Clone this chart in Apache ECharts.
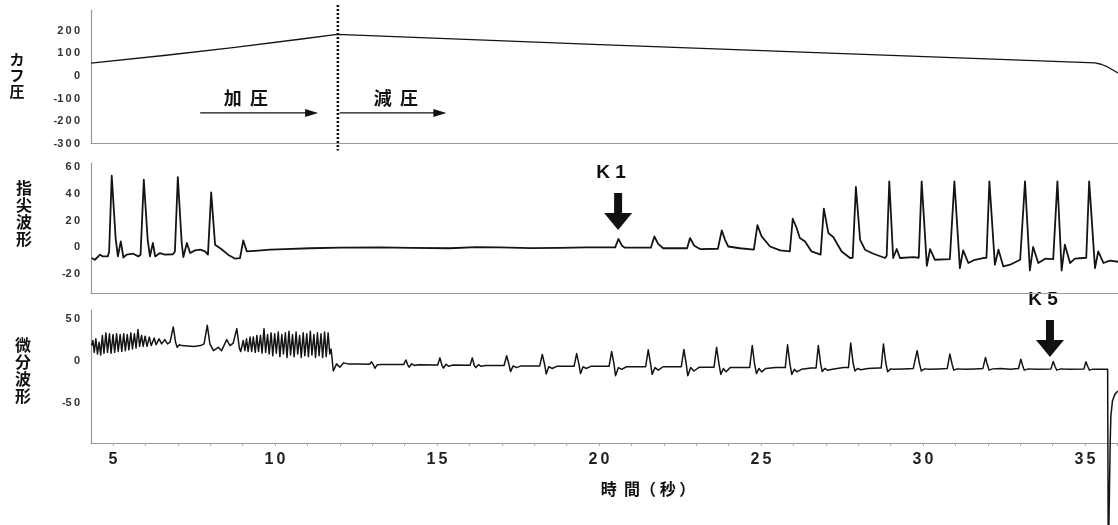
<!DOCTYPE html>
<html>
<head>
<meta charset="utf-8">
<script src="https://cdn.jsdelivr.net/npm/echarts@6/dist/echarts.min.js"></script>
<style>
  html, body { margin: 0; padding: 0; background: #fff; }
  #chart { width: 1118px; height: 525px; }
</style>
</head>
<body>
<div id="chart"></div>
<script>
// ---- time axis (seconds) ----
const timeStart = 4.32;
const timeEnd = 36.02;
const timeLabels = [5, 10, 15, 20, 25, 30, 35];
const timeTicks = [5, 6, 7, 8, 9, 10, 11, 12, 13, 14, 15, 16, 17, 18, 19, 20,
  21, 22, 23, 24, 25, 26, 27, 28, 29, 30, 31, 32, 33, 34, 35, 36];

// ---- value axis labels ----
const cuffTicks = [-300, -200, -100, 0, 100, 200];
const fingerTicks = [-20, 0, 20, 40, 60];
const diffTicks = [-50, 0, 50];

// ---- cuff pressure [time, mmHg] ----
const cuffPressure = [
  [4.32, 57], [6.64, 92], [8.70, 126], [10.76, 163], [11.92, 185],
  [20.03, 139], [27.75, 98], [35.31, 58], [35.50, 52], [35.70, 40], [36.02, 13]
];

// ---- fingertip pulse wave [time, value] ----
const fingerWave = [
  [4.34, -7.9], [4.44, -9.2], [4.60, -5.4], [4.69, -6.7], [4.84, -6.7], [4.88, -3],
  [4.96, 53.5], [5.08, 7.0], [5.15, -6.7], [5.24, 4.5], [5.32, -7.5], [5.42, -5.4],
  [5.62, -4.7], [5.78, -6.7], [5.85, -5.4], [5.95, 50.5], [6.07, 5.7], [6.14, -6.7],
  [6.23, 3.3], [6.30, -6.7], [6.45, -4.2], [6.60, -5.4], [6.85, -5.1], [6.91, -3],
  [7.00, 52.5], [7.12, 3.3], [7.17, -7.2], [7.28, 3.3], [7.38, -4.2], [7.53, -2.2],
  [7.69, -1.7], [7.84, -3.0], [7.93, -5.4], [8.03, 41.0], [8.15, 2.0], [8.25, 0.3],
  [8.33, -1.0], [8.55, -5.4], [8.77, -8.4], [8.92, -7.9], [9.02, 5.2], [9.13, -3.0],
  [9.38, -2.5], [9.85, -1.7], [10.31, -1.2], [11.08, -0.6], [12.01, -0.2], [13.24, 0],
  [14.2, -0.4], [15.40, -0.6], [16.2, 0.2], [16.94, 0.1], [17.9, -0.5], [18.80, -0.4],
  [19.6, 0.1], [20.50, 0], [20.60, 6.3], [20.71, 1.3], [20.80, -0.2],
  [21.60, -0.2], [21.71, 8.2], [21.82, 2.8], [21.98, -0.6],
  [22.72, -0.6], [22.81, 7.0], [22.94, 1.3], [23.12, -1.2],
  [23.67, -1.0], [23.79, 12.7], [23.89, 5.7], [23.99, 0.7], [24.35, -0.6],
  [24.78, -1.7], [24.89, 16.6], [25.02, 8.2], [25.28, 0.7], [25.59, -2.2], [25.89, -3.0],
  [25.98, 21.4], [26.10, 14.5], [26.20, 7.0], [26.36, 4.5], [26.56, -3.0], [26.84, -5.4],
  [26.94, 28.9], [27.08, 10.7], [27.23, 7.8], [27.49, -3.0], [27.75, -7.9], [27.83, -7.7],
  [27.93, 45.1], [28.06, 5.7], [28.21, -1.7], [28.47, -4.7], [28.83, -7.9], [28.88, -6.2],
  [28.96, 49.3], [29.08, -7.9], [29.19, -1.2], [29.29, -7.9], [29.70, -7.2], [29.87, -7.7],
  [29.96, 49.3], [30.12, -13.7], [30.22, -1.2], [30.37, -9.2], [30.83, -8.7], [30.88, -7.7],
  [30.97, 49.3], [31.14, -15.4], [31.24, -2.2], [31.40, -11.6], [31.60, -9.2], [31.86, -7.9], [31.96, -7.7],
  [32.05, 49.3], [32.22, -12.9], [32.33, -1.7], [32.48, -14.2], [32.69, -12.9], [33.00, -9.2], [33.06, -8.4],
  [33.15, 49.3], [33.30, -17.2], [33.40, 0.3], [33.56, -11.6], [33.77, -8.4], [34.02, -8.7], [34.07, -8.4],
  [34.15, 49.3], [34.28, -17.2], [34.38, 2.0], [34.54, -11.6], [34.69, -8.4], [34.95, -7.9], [35.04, -7.7],
  [35.13, 49.3], [35.31, -15.4], [35.41, -3.0], [35.57, -11.6], [35.77, -9.9], [36.02, -10.7]
];

// ---- differential wave [time, value] ----
const diffWave = [
  // during inflation
  [4.34, 18], [4.38, 24], [4.42, 10], [4.47, 26], [4.52, 8], [4.57, 22], [4.62, 7], [4.67, 30],
  [4.72, 9], [4.78, 33], [4.83, 10], [4.89, 32], [4.94, 9], [5.00, 31], [5.05, 10], [5.11, 32],
  [5.16, 11], [5.22, 31], [5.27, 11], [5.33, 32], [5.38, 12], [5.44, 31], [5.49, 13], [5.55, 33],
  [5.60, 14], [5.66, 32], [5.71, 15], [5.77, 37], [5.82, 17], [5.88, 30], [5.93, 17],
  [5.99, 29], [6.05, 17], [6.12, 28], [6.18, 18], [6.27, 27], [6.33, 19], [6.42, 26], [6.50, 20],
  [6.60, 25], [6.68, 20], [6.76, 22], [6.86, 40], [6.93, 22], [6.98, 16], [7.05, 19], [7.12, 18],
  [7.30, 17.5], [7.50, 17], [7.70, 18], [7.81, 20], [7.91, 42], [7.99, 20], [8.10, 12], [8.25, 16],
  [8.35, 12], [8.51, 25], [8.61, 18], [8.71, 21], [8.82, 38], [8.90, 15], [8.94, 11],
  [9.02, 24], [9.07, 12], [9.12, 26], [9.17, 11], [9.23, 28], [9.28, 11], [9.33, 28], [9.39, 10],
  [9.44, 30], [9.49, 11], [9.55, 30], [9.60, 9], [9.66, 38], [9.71, 10],
  [9.77, 31], [9.82, 8], [9.88, 33], [9.93, 6], [9.99, 32], [10.04, 9], [10.10, 34], [10.15, 5],
  [10.21, 31], [10.26, 8], [10.32, 33], [10.37, 4], [10.43, 35], [10.48, 7], [10.54, 31], [10.59, 5],
  [10.65, 34], [10.70, 8], [10.76, 30], [10.81, 4], [10.87, 33], [10.92, 6], [10.98, 32], [11.03, 5],
  [11.09, 35], [11.14, 7], [11.20, 31], [11.25, 4], [11.31, 33], [11.36, 6], [11.42, 32], [11.47, 4],
  [11.53, 34], [11.58, 5], [11.64, 33], [11.69, 8],
  // deflation
  [11.73, 14], [11.80, -12], [11.90, -3.6], [12.00, -7.5], [12.12, -2.4], [12.25, -3.6], [12.6, -3.8],
  [12.92, -4], [12.98, -1.2], [13.04, -5], [13.08, -8.7], [13.16, -4.5], [13.3, -4.2],
  [13.97, -4.4], [14.04, 1], [14.10, -5], [14.14, -7.5], [14.22, -3.5], [14.30, -5.5], [14.42, -4.6],
  [15.02, -5], [15.09, 3.5], [15.15, -5], [15.20, -8.5], [15.28, -4], [15.36, -6.5], [15.5, -5],
  [16.02, -5.2], [16.09, 3.5], [16.15, -5.5], [16.20, -8], [16.28, -4.5], [16.36, -6.5], [16.5, -5.5],
  [17.07, -5.5], [17.15, 6], [17.22, -4], [17.27, -12.7], [17.35, -6], [17.45, -8], [17.6, -6],
  [18.17, -6], [18.25, 7.5], [18.32, -4], [18.37, -15.5], [18.45, -7], [18.55, -9], [18.7, -6.5],
  [19.23, -6.5], [19.31, 8.5], [19.38, -4], [19.43, -15], [19.51, -7], [19.6, -9], [19.75, -6.5],
  [20.31, -6.5], [20.39, 11], [20.46, -3], [20.51, -17.5], [20.6, -8], [20.7, -10], [20.85, -7],
  [21.44, -7], [21.52, 13], [21.59, -3], [21.64, -16], [21.73, -8], [21.83, -11], [21.98, -7],
  [22.54, -7], [22.62, 13.5], [22.69, -3], [22.74, -17.5], [22.83, -8], [22.93, -12], [23.1, -7.5],
  [23.55, -7.5], [23.63, 16], [23.70, -3], [23.76, -16], [23.84, -9], [23.92, -13], [24.05, -8], [24.3, -8],
  [24.65, -8], [24.73, 18], [24.80, -3], [24.86, -15], [24.94, -9], [25.02, -13], [25.15, -9], [25.45, -8],
  [25.75, -8], [25.82, 19], [25.89, -3], [25.95, -16], [26.03, -10], [26.11, -13], [26.25, -10], [26.55, -8.5],
  [26.70, -8.5], [26.77, 18], [26.84, -3], [26.89, -12.7], [26.97, -9], [27.05, -11], [27.2, -10], [27.55, -8],
  [27.70, -8], [27.77, 21], [27.84, -2], [27.90, -12], [27.98, -9], [28.08, -10.5], [28.3, -9], [28.6, -8.5],
  [28.71, -8.5], [28.78, 20], [28.85, -2], [28.91, -13], [29.0, -9.5], [29.1, -10], [29.4, -9.5], [29.7, -9],
  [29.76, -9], [29.82, 12], [29.89, -3], [29.95, -12], [30.05, -9.5], [30.2, -10], [30.5, -9.5], [30.75, -9],
  [30.77, -9], [30.83, 8], [30.90, -4], [30.95, -11], [31.05, -9.5], [31.3, -10], [31.6, -9.5], [31.85, -9],
  [31.87, -9], [31.93, 4], [31.99, -5], [32.04, -11], [32.15, -9.5], [32.4, -9], [32.7, -10], [32.95, -9],
  [32.96, -9], [33.02, 2], [33.08, -6], [33.13, -11], [33.25, -9.5], [33.5, -10], [33.95, -9.5],
  [33.97, -9.5], [34.02, -0.8], [34.08, -7], [34.13, -11], [34.25, -9.5], [34.5, -10], [34.97, -9.5],
  [34.98, -9.5], [35.03, -1], [35.09, -7], [35.14, -11], [35.25, -9.8], [35.5, -10], [35.70, -9.9],
  // cuff release
  [35.72, -240], [35.76, -240], [35.78, -95], [35.80, -65], [35.85, -47], [35.93, -39], [36.02, -35.6]
];

// ---- annotations ----
const deflationStart = 11.94;
const pressurePhases = [
  { label: '加  圧', from: 7.69, to: 11.33, labelAt: 9.10 },
  { label: '減  圧', from: 11.99, to: 15.29, labelAt: 13.73 }
];
const phaseLabelLevel = -98;
const phaseArrowLevel = -164;
const korotkoff = [
  { name: 'K 1', t: 20.59, v: 13, grid: 1 },
  { name: 'K 5', t: 33.92, v: 4.5, grid: 2 }
];
const panelNames = ['カフ圧', '指尖波形', '微分波形'];

// ---- drawing ----
const NUM_FONT = '"Liberation Sans", Arial, sans-serif';
const JP_FONT = '"Noto Sans CJK JP", "Noto Sans CJK SC", sans-serif';
const AXIS_COLOR = '#9a9a9a';
const INK = '#141414';

const spaced = v => String(v).replace(/(\d)(?=\d)/g, '$1\u2009');

const grids = [
  { left: 91, right: 0, top: 10, height: 133.5 },
  { left: 91, right: 0, top: 163, height: 130 },
  { left: 91, right: 0, top: 310, height: 133 }
];

function timeAxis(i, withLabels) {
  return {
    type: 'value', gridIndex: i, min: timeStart, max: timeEnd,
    splitLine: { show: false },
    axisLine: { show: true, onZero: false, lineStyle: { color: AXIS_COLOR, width: 1.2 } },
    axisTick: withLabels
      ? { show: true, customValues: timeTicks, length: 3, lineStyle: { color: '#a8a8a8' } }
      : { show: false },
    axisLabel: withLabels
      ? { show: true, customValues: timeLabels, formatter: spaced, margin: 9,
          fontSize: 16, fontWeight: 'bold', color: '#222', fontFamily: NUM_FONT }
      : { show: false }
  };
}

function valueAxis(i, min, max, ticks) {
  return {
    type: 'value', gridIndex: i, min: min, max: max,
    splitLine: { show: false },
    axisLine: { show: true, onZero: false, lineStyle: { color: AXIS_COLOR, width: 1.2 } },
    axisTick: { show: false },
    axisLabel: { show: true, customValues: ticks, formatter: spaced, margin: 11,
      fontSize: 11, fontWeight: 'bold', color: '#333', fontFamily: NUM_FONT }
  };
}

function wave(i, data, width, clip) {
  return {
    type: 'line', xAxisIndex: i, yAxisIndex: i, data: data,
    showSymbol: false, symbol: 'none', clip: clip,
    lineStyle: { color: INK, width: width, join: 'round' },
    silent: true
  };
}

const chart = echarts.init(document.getElementById('chart'), null, { renderer: 'canvas' });
chart.setOption({
  animation: false,
  backgroundColor: '#ffffff',
  grid: grids,
  xAxis: [timeAxis(0, false), timeAxis(1, false), timeAxis(2, true)],
  yAxis: [
    valueAxis(0, -300, 293, cuffTicks),
    valueAxis(1, -34, 63, fingerTicks),
    valueAxis(2, -97, 60, diffTicks)
  ],
  series: [
    wave(0, cuffPressure, 1.3, true),
    wave(1, fingerWave, 1.8, true),
    wave(2, diffWave, 1.5, false)
  ]
});

// overlay annotations placed through the axes' own coordinate conversion
const px = (gi, t, v) => chart.convertToPixel({ gridIndex: gi }, [t, v]);
const elements = [];

// vertical panel titles
const nameSpecs = [
  { x: 17, y: 75, size: 15 },
  { x: 24, y: 213, size: 16 },
  { x: 23, y: 370, size: 16 }
];
panelNames.forEach((name, i) => {
  const s = nameSpecs[i];
  elements.push({
    type: 'text', silent: true,
    style: { text: name.split('').join('\n'), x: s.x, y: s.y, align: 'center', verticalAlign: 'middle',
      fill: '#111', font: 'bold ' + s.size + 'px ' + JP_FONT, lineHeight: s.size + 1 }
  });
});

// time axis title
elements.push({
  type: 'text', silent: true,
  style: { text: '時  間（ 秒 ）', x: 648, y: 489, align: 'center', verticalAlign: 'middle',
    fill: '#111', font: 'bold 16px ' + JP_FONT }
});

// start of deflation (dotted)
const topP = px(0, deflationStart, 293);
const botP = px(0, deflationStart, -300);
elements.push({
  type: 'line', silent: true,
  shape: { x1: topP[0], y1: topP[1] - 5, x2: botP[0], y2: botP[1] + 7 },
  style: { stroke: '#111', lineWidth: 2.6, lineDash: [2, 2] }
});

// inflation / deflation labels with arrows
pressurePhases.forEach(p => {
  const lp = px(0, p.labelAt, phaseLabelLevel);
  elements.push({
    type: 'text', silent: true,
    style: { text: p.label, x: lp[0], y: lp[1], align: 'center', verticalAlign: 'middle',
      fill: '#111', font: 'bold 18px ' + JP_FONT }
  });
  const a = px(0, p.from, phaseArrowLevel);
  const b = px(0, p.to, phaseArrowLevel);
  elements.push({
    type: 'line', silent: true,
    shape: { x1: a[0], y1: a[1], x2: b[0] - 10, y2: b[1] },
    style: { stroke: '#111', lineWidth: 1.4 }
  });
  elements.push({
    type: 'polygon', silent: true,
    shape: { points: [[b[0], b[1]], [b[0] - 13, b[1] - 4], [b[0] - 13, b[1] + 4]] },
    style: { fill: '#111' }
  });
});

// Korotkoff markers
korotkoff.forEach(k => {
  const tip = px(k.grid, k.t, k.v);
  const x = tip[0], y = tip[1];
  elements.push({
    type: 'polygon', silent: true,
    shape: { points: [[x - 4, y - 37], [x + 4, y - 37], [x + 4, y - 17], [x + 14, y - 17],
      [x, y], [x - 14, y - 17], [x - 4, y - 17]] },
    style: { fill: '#111' }
  });
  elements.push({
    type: 'text', silent: true,
    style: { text: k.name, x: x - 7, y: y - 57, align: 'center', verticalAlign: 'middle',
      fill: '#111', font: 'bold 19px ' + NUM_FONT }
  });
});

chart.setOption({ graphic: { elements: elements } });
</script>
</body>
</html>
